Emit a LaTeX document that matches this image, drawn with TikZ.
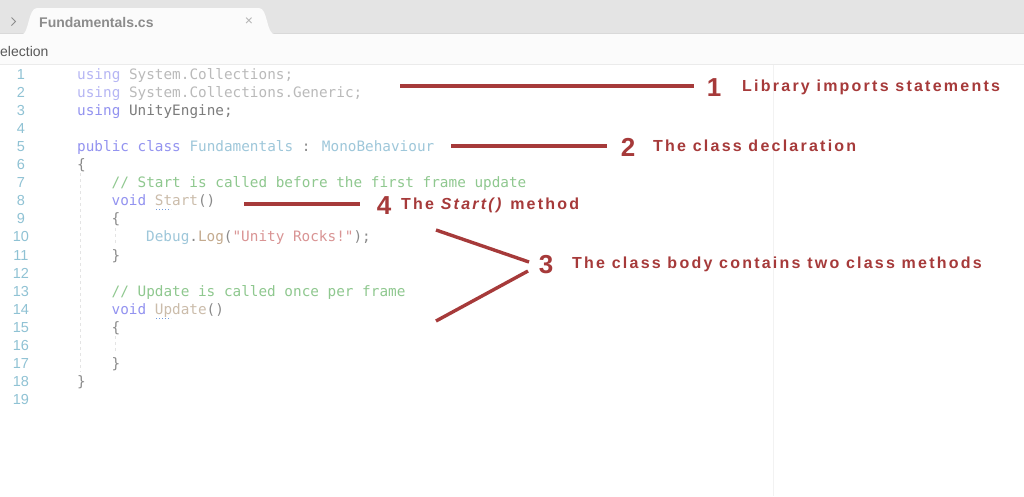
\documentclass[tikz,border=0pt]{standalone}
\usepackage{fontspec}
\setmainfont{Liberation Sans}
\newfontfamily\codefont[Ligatures=TeXOff]{DejaVu Sans Mono}
\newfontfamily\annfont[LetterSpace=14]{Liberation Sans}
\definecolor{tabbg}{HTML}{E4E4E4}
\definecolor{barbg}{HTML}{FBFBFB}
\definecolor{lnc}{HTML}{8FC2D4}
\definecolor{kwf}{HTML}{B6B6F4}
\definecolor{kw}{HTML}{9393F0}
\definecolor{nsf}{HTML}{BABABA}
\definecolor{ns}{HTML}{7C7C7C}
\definecolor{typ}{HTML}{9EC7DA}
\definecolor{pun}{HTML}{8A8A8A}
\definecolor{com}{HTML}{8FC88F}
\definecolor{meth}{HTML}{CBBCAA}
\definecolor{logc}{HTML}{C4AB8F}
\definecolor{strc}{HTML}{D99494}
\definecolor{ann}{HTML}{A63A3A}
\definecolor{guide}{HTML}{E4E4E4}
\begin{document}
\begin{tikzpicture}[x=1pt,y=-1pt,
  code/.style={anchor=base west,inner sep=0pt,font=\codefont\fontsize{14.35}{17}\selectfont},
  lnum/.style={anchor=base,inner sep=0pt,text=lnc,font=\fontsize{14.5}{17}\selectfont},
  annline/.style={draw=ann,line width=3.4pt},
  annnum/.style={anchor=base,inner sep=0pt,text=ann,font=\bfseries\fontsize{26}{30}\selectfont},
  anntext/.style={anchor=base west,inner sep=0pt,text=ann,font=\annfont\bfseries\fontsize{16}{19}\selectfont},
  guideline/.style={draw=guide,line width=0.7pt,dash pattern=on 3pt off 3pt}]
\useasboundingbox (0,0) rectangle (1024,496);
\fill[white] (0,0) rectangle (1024,496);
% tab bar
\fill[tabbg] (0,0) rectangle (1024,34);
\fill[barbg] (0,34) rectangle (1024,64);
\draw[draw=black!15,line width=0.6pt] (0,33.7) -- (1024,33.7);
\fill[barbg] (22,34.5) .. controls (29,34) and (28,8) .. (37,8) -- (259,8) .. controls (268,8) and (266,34) .. (275,34.5) -- cycle;
\draw[black!8,line width=0.8pt] (0,64) -- (1024,64);
\draw[black!45,line width=0.8pt] (11.5,17.5) -- (15.5,21.5) -- (11.5,25.5);
\node[anchor=base west,inner sep=0pt,text=black!45,font=\bfseries\fontsize{14}{17}\selectfont] (tabname) at (39,27) {Fundamentals.cs};
\node[anchor=center,inner sep=0pt,text=black!30,font=\fontsize{14}{17}\selectfont] (tabclose) at (249,22) {×};
\node[anchor=base west,inner sep=0pt,text=black!65,font=\fontsize{14}{17}\selectfont] (sel) at (0,56) {election};
% right margin guide
\draw[black!5,line width=0.8pt] (773,64.5) -- (773,496);
% indent guides
\draw[guideline] (80,173) -- (80,372);
\draw[guideline] (115,228) -- (115,246);
\draw[guideline] (115,336) -- (115,354);
% line numbers
\foreach \n in {1,...,19} {
  \node[lnum] (ln\n) at (21,{79+(\n-1)*18.1}) {\n};
}
% code
\node[code] (c1) at (77,79) {\textcolor{kwf}{using} \textcolor{nsf}{System.Collections;}};
\node[code] (c2) at (77,97.1) {\textcolor{kwf}{using} \textcolor{nsf}{System.Collections.Generic;}};
\node[code] (c3) at (77,115.2) {\textcolor{kw}{using} \textcolor{ns}{UnityEngine;}};
\node[code] (c5) at (77,151.4) {\textcolor{kw}{public class} \textcolor{typ}{Fundamentals} \textcolor{pun}{:} \textcolor{typ}{MonoBehaviour}};
\node[code] (c6) at (77,169.5) {\textcolor{pun}{\{}};
\node[code] (c7) at (111.5,187.6) {\textcolor{com}{// Start is called before the first frame update}};
\node[code] (c8) at (111.5,205.7) {\textcolor{kw}{void} \textcolor{meth}{Start}\textcolor{pun}{()}};
\node[code] (c9) at (111.5,223.8) {\textcolor{pun}{\{}};
\node[code] (c10) at (146,241.9) {\textcolor{typ}{Debug}\textcolor{pun}{.}\textcolor{logc}{Log}\textcolor{pun}{(}\textcolor{strc}{"Unity Rocks!"}\textcolor{pun}{);}};
\node[code] (c11) at (111.5,260) {\textcolor{pun}{\}}};
\node[code] (c13) at (111.5,296.2) {\textcolor{com}{// Update is called once per frame}};
\node[code] (c14) at (111.5,314.3) {\textcolor{kw}{void} \textcolor{meth}{Update}\textcolor{pun}{()}};
\node[code] (c15) at (111.5,332.4) {\textcolor{pun}{\{}};
\node[code] (c17) at (111.5,368.6) {\textcolor{pun}{\}}};
\node[code] (c18) at (77,386.7) {\textcolor{pun}{\}}};
% dotted underlines
\draw[draw=lnc!80!blue,line width=1pt,dash pattern=on 1pt off 2pt] (156,209.5) -- (171,209.5);
\draw[draw=lnc!80!blue,line width=1pt,dash pattern=on 1pt off 2pt] (156,318) -- (171,318);
% annotations
\coordinate (a1s) at (400,86); \coordinate (a1e) at (694,86);
\coordinate (a2s) at (451,146); \coordinate (a2e) at (607,146);
\coordinate (a4s) at (244,204); \coordinate (a4e) at (360,204);
\coordinate (a3s) at (436,230); \coordinate (a3e) at (529,262);
\coordinate (a3t) at (528,271); \coordinate (a3u) at (436,321);
\draw[annline] (a1s) -- (a1e);
\draw[annline] (a2s) -- (a2e);
\draw[annline] (a4s) -- (a4e);
\draw[annline] (a3s) -- (a3e);
\draw[annline] (a3t) -- (a3u);
\node[annnum] (n1) at (714,96) {1};
\node[anntext] (t1) at (742,91.5) {Library imports statements};
\node[annnum] (n2) at (628,156) {2};
\node[anntext] (t2) at (653,151.5) {The class declaration};
\node[annnum] (n4) at (384,214) {4};
\node[anntext] (t4) at (401,209.5) {The \textit{Start()} method};
\node[annnum] (n3) at (546,273) {3};
\node[anntext] (t3) at (572,268.5) {The class body contains two class methods};
\end{tikzpicture}
\end{document}
